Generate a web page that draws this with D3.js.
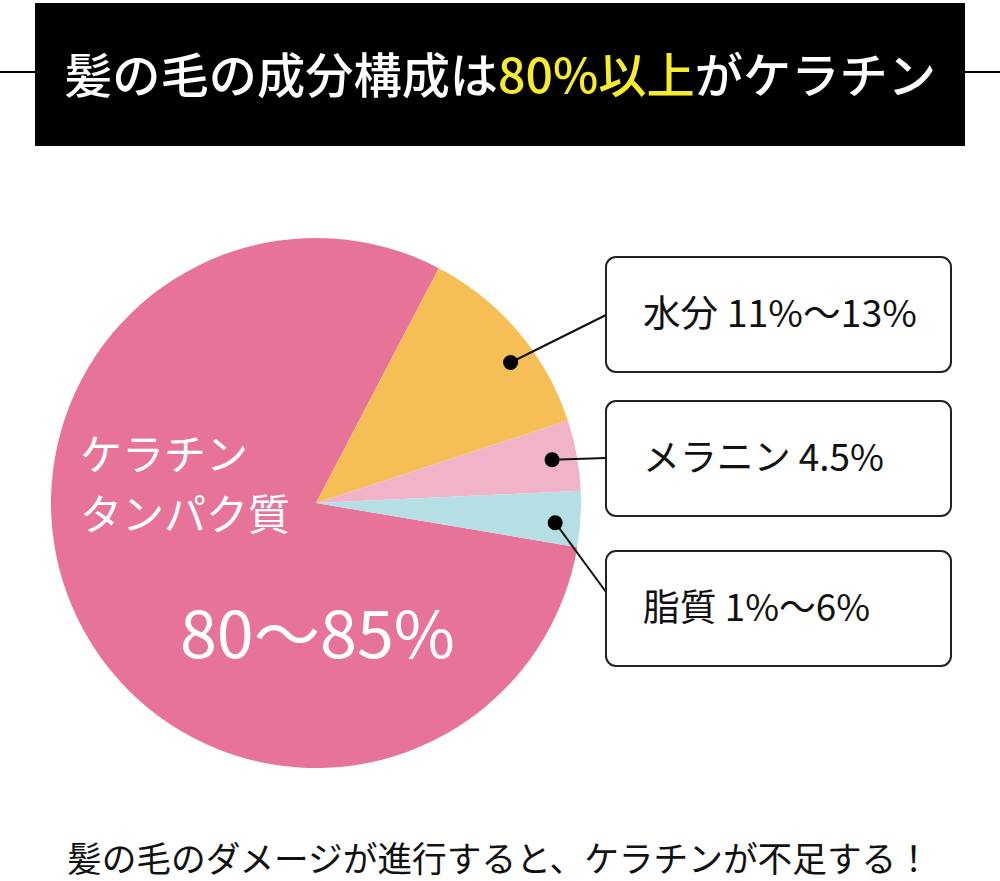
<!DOCTYPE html>
<html><head><meta charset="utf-8">
<script src="https://cdn.jsdelivr.net/npm/d3@7"></script>
<style>html,body{margin:0;padding:0;background:#fff;}svg{display:block;}</style>
</head><body>
<svg id="c" width="1000" height="881"></svg>
<script>
// ---- data ----
const categories = ["ケラチンタンパク質", "水分", "メラニン", "脂質"];
const values = [80.0, 12.3, 4.3, 3.4];
const colors = ["#E87398", "#F5BF55", "#F0B3C7", "#B6DFE5"];
const boxLabels = ["水分 11%〜13%", "メラニン 4.5%", "脂質 1%〜6%"];
const boxLabelWidths = [274, 241, 227];
const keratinLines = ["ケラチン", "タンパク質"];
const keratinValue = "80〜85%";
const titleParts = ["髪の毛の成分構成は", "80%以上", "がケラチン"];
const titleColors = ["#FFFFFF", "#F7EC2B", "#FFFFFF"];
const footer = "髪の毛のダメージが進行すると、ケラチンが不足する！";

const svg = d3.select("#c");
const JP = "'Noto Sans CJK JP','Noto Sans',sans-serif";

// header
svg.append("line").attr("x1",0).attr("x2",1000).attr("y1",72).attr("y2",72).attr("stroke","#000").attr("stroke-width",2);
svg.append("rect").attr("x",35).attr("y",3).attr("width",930).attr("height",143).attr("fill","#000");
const tt = svg.append("text").attr("x",500).attr("y",93).attr("text-anchor","middle").attr("font-family",JP)
  .attr("font-size",50).attr("font-weight",500);
titleParts.forEach((p,i) => tt.append("tspan").attr("fill",titleColors[i]).text(p));
{
  const w = tt.node().getComputedTextLength();
  tt.attr("font-size", Math.min(52, 50 * 872 / w));
}

// pie
const cx = 316, cy = 503, R = 265;
const start = 99.6 * Math.PI / 180;
const pie = d3.pie().sort(null).startAngle(start).endAngle(start + 2*Math.PI);
const arcs = pie(values);
const arc = d3.arc().innerRadius(0).outerRadius(R);
const g = svg.append("g").attr("transform",`translate(${cx},${cy})`);
g.selectAll("path").data(arcs).join("path").attr("d",arc).attr("fill",(d,i)=>colors[i]);

// keratin label
const kt = g.append("text").attr("font-family",JP).attr("fill","#fff").attr("font-size",42);
keratinLines.forEach((t,i)=>kt.append("tspan").attr("x",80-cx).attr("y",470-cy+i*60).text(t));
g.append("text").attr("font-family",JP).attr("fill","#fff").attr("font-size",64)
  .attr("x",180-cx).attr("y",658-cy).attr("textLength",275).attr("lengthAdjust","spacingAndGlyphs").text(keratinValue);

// boxes and leaders
const boxX = 606, boxW = 345, boxH = 115;
const boxY = [257, 401, 551];
const anchorY = [315, 458, 592];
const dotFrac = [0.6, 0.5, 0.6];
const dotR = 240;
boxLabels.forEach((lab,i)=>{
  const a = arcs[i+1];
  const ang = a.startAngle + dotFrac[i]*(a.endAngle - a.startAngle);
  const dx = cx + dotR*Math.sin(ang), dy = cy - dotR*Math.cos(ang);
  svg.append("line").attr("x1",dx).attr("y1",dy).attr("x2",boxX).attr("y2",anchorY[i]).attr("stroke","#111").attr("stroke-width",2);
  svg.append("circle").attr("cx",dx).attr("cy",dy).attr("r",7.5).attr("fill","#000");
  svg.append("rect").attr("x",boxX).attr("y",boxY[i]).attr("width",boxW).attr("height",boxH).attr("rx",10)
    .attr("fill","#fff").attr("stroke","#222").attr("stroke-width",2);
  svg.append("text").attr("x",643).attr("y",boxY[i]+70).attr("font-family",JP).attr("font-size",37).attr("fill","#111")
    .attr("textLength",boxLabelWidths[i]).attr("lengthAdjust","spacingAndGlyphs").text(lab);
});

// footer
svg.append("text").attr("x",67).attr("y",872).attr("font-family",JP).attr("font-size",35)
  .attr("font-weight",400).attr("fill","#111").attr("textLength",864).attr("lengthAdjust","spacingAndGlyphs").text(footer);
</script>
</body></html>
